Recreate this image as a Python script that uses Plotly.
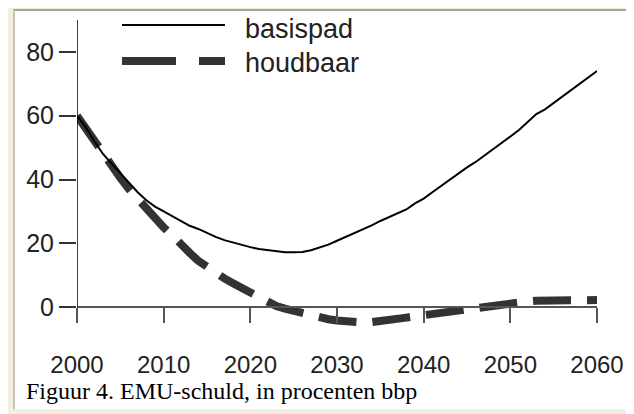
import plotly.graph_objects as go

years = list(range(2000, 2061))
basispad = [60, 56.5, 52, 48, 45, 42, 39, 36, 33.5, 31.5,
            30, 28.5, 27, 25.5, 24.5, 23.2, 22, 21, 20.2, 19.5,
            18.8, 18.2, 17.8, 17.4, 17.2, 17.2, 17.3, 17.8, 18.6, 19.6,
            20.8, 22, 23, 24.3, 25.6, 27, 28.2, 29.3, 30.6, 32.5,
            34, 36, 38, 40, 42, 43.8, 45.5, 47.5, 49.5, 51.5,
            53.5, 55.5, 58, 60.5, 62, 64, 66, 68, 70, 72, 74]
houdbaar = [60, 56, 51.5, 47.5, 44, 40.5, 37, 34, 31, 27.5,
            25, 22.5, 19.5, 17, 14.5, 12.5, 10.5, 9, 7.5, 6,
            4.5, 3, 1.5, 0.3, -0.5, -1.2, -2, -2.8, -3.3, -3.8,
            -4.2, -4.5, -4.7, -4.8, -4.7, -4.5, -4.1, -3.7, -3.3, -2.9,
            -2.5, -2.2, -1.9, -1.6, -1.3, -1.0, -0.6, -0.2, 0.2, 0.6,
            1.0, 1.4, 1.8, 2.0, 2.1, 2.2, 2.2, 2.2, 2.2, 2.2, 2.2]
x_ticks = [2000, 2010, 2020, 2030, 2040, 2050, 2060]
y_ticks = [0, 20, 40, 60, 80]
series_names = ["basispad", "houdbaar"]
caption = "Figuur 4. EMU-schuld, in procenten bbp"

# the page body adds an 8px margin, so the figure is drawn 8px smaller and
# all page-pixel positions below are shifted by OFF
OFF = 8
W, H = 634 - OFF, 414 - OFF
L, T = 77 - OFF, 20 - OFF
R = W - (597 - OFF)
YMIN, YMAX = -10, 90
PPU = 3.1875
plot_h = (YMAX - YMIN) * PPU
B = H - T - plot_h
plot_w = W - L - R


def px(xp):
    return (xp - OFF - L) / plot_w


def py(yp):
    return (T + plot_h - (yp - OFF)) / plot_h


fig = go.Figure()
fig.add_trace(go.Scatter(x=years, y=houdbaar, mode="lines", name=series_names[1],
                         line=dict(color="#333333", width=8, dash="38px,16px"),
                         showlegend=False))
fig.add_trace(go.Scatter(x=years, y=basispad, mode="lines", name=series_names[0],
                         line=dict(color="#000000", width=2),
                         showlegend=False))

shapes = []
# frame
shapes.append(dict(type="rect", xref="paper", yref="paper", x0=px(8), x1=px(640), y0=py(420), y1=py(3),
                   fillcolor="#f2efe1", line=dict(width=0), layer="below"))
shapes.append(dict(type="rect", xref="paper", yref="paper", x0=px(15), x1=px(640), y0=py(409), y1=py(11),
                   fillcolor="#ffffff", line=dict(width=0), layer="below"))
shapes.append(dict(type="line", xref="paper", yref="paper", x0=px(13), x1=px(640), y0=py(10), y1=py(10),
                   line=dict(color="#a8a494", width=2), layer="below"))
shapes.append(dict(type="line", xref="paper", yref="paper", x0=px(14), x1=px(14), y0=py(10), y1=py(409),
                   line=dict(color="#c8c5b8", width=2), layer="below"))
shapes.append(dict(type="line", xref="paper", yref="paper", x0=px(627), x1=px(627), y0=py(19), y1=py(409),
                   line=dict(color="#dddddd", width=2), layer="below"))
# y axis line from 0 upward
shapes.append(dict(type="line", xref="x", yref="paper", x0=2000, x1=2000,
                   y0=(0 - YMIN) / (YMAX - YMIN), y1=1,
                   line=dict(color="#000000", width=1.5)))
# legend samples
shapes.append(dict(type="line", xref="paper", yref="paper", x0=px(122), x1=px(225), y0=py(25), y1=py(25),
                   line=dict(color="#000000", width=2)))
shapes.append(dict(type="line", xref="paper", yref="paper", x0=px(122), x1=px(176), y0=py(61), y1=py(61),
                   line=dict(color="#333333", width=8)))
shapes.append(dict(type="line", xref="paper", yref="paper", x0=px(199), x1=px(225), y0=py(61), y1=py(61),
                   line=dict(color="#333333", width=8)))

annotations = [
    dict(text=series_names[0], xref="paper", yref="paper", x=px(243), y=py(29), xanchor="left", yanchor="middle",
         showarrow=False, font=dict(family="Liberation Sans, Arial", size=27, color="#222222")),
    dict(text=series_names[1], xref="paper", yref="paper", x=px(243), y=py(63), xanchor="left", yanchor="middle",
         showarrow=False, font=dict(family="Liberation Sans, Arial", size=27, color="#222222")),
    dict(text=caption, xref="paper", yref="paper", x=px(24), y=py(391), xanchor="left", yanchor="middle",
         showarrow=False, font=dict(family="Liberation Serif, Times New Roman", size=24, color="#000000")),
]

fig.update_layout(
    width=W, height=H,
    margin=dict(l=L, r=R, t=T, b=B, pad=0, autoexpand=False),
    paper_bgcolor="#ffffff", plot_bgcolor="rgba(0,0,0,0)",
    showlegend=False,
    shapes=shapes, annotations=annotations,
    xaxis=dict(range=[2000, 2060], anchor="free", position=(0 - YMIN) / (YMAX - YMIN),
               showline=True, linecolor="#555555", linewidth=1.5,
               ticks="outside", ticklen=15, tickwidth=1.5, tickcolor="#555555",
               tickvals=x_ticks, ticktext=[str(v) for v in x_ticks],
               ticklabelstandoff=21, showgrid=False, zeroline=False,
               tickfont=dict(family="Liberation Sans, Arial", size=24, color="#222222")),
    yaxis=dict(range=[YMIN, YMAX], showline=False,
               ticks="outside", ticklen=17, tickwidth=1.5, tickcolor="#333333",
               tickvals=y_ticks, ticktext=[str(v) for v in y_ticks],
               showgrid=False, zeroline=False,
               tickfont=dict(family="Liberation Sans, Arial", size=25, color="#222222")),
)

fig.write_html("out.html")
